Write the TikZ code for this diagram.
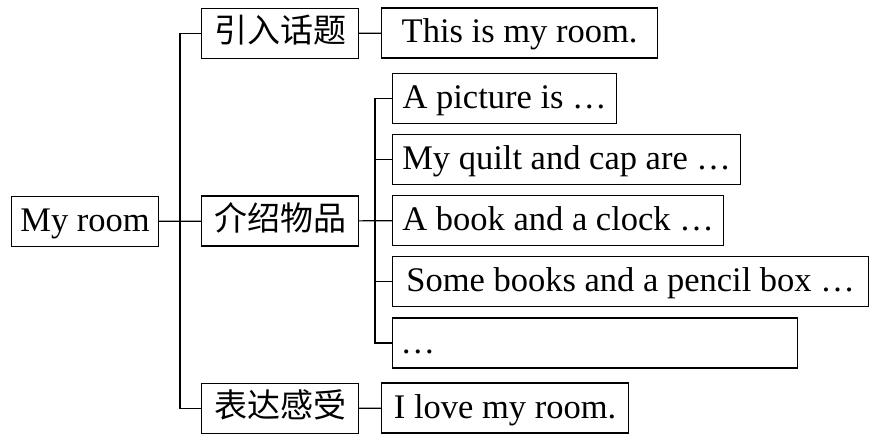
\documentclass[tikz,border=0pt]{standalone}
\usepackage{fontspec}
\setmainfont{Liberation Serif}
\newfontfamily\cjk{Noto Sans CJK SC}
\usetikzlibrary{positioning}

\tikzset{
  box/.style={draw, line width=1.2pt, minimum height=50, inner xsep=6pt,
    text height=25pt, text depth=5pt,
    anchor=west, font=\fontsize{34.5}{40}\selectfont},
  zh/.style={box, minimum width=157, text height=24pt, text depth=6pt,
    font=\fontsize{33}{40}\selectfont\cjk},
  link/.style={line width=1.2pt},
}

\begin{document}
\begin{tikzpicture}[x=1pt,y=-1pt]
\useasboundingbox (0,0) rectangle (892,441);
% root and the three parts
\node[box, minimum width=147] (root) at (11,221.5) {My room};
\node[zh] (topic) at (201,33.5)  {引入话题};
\node[zh] (items) at (201,221)   {介绍物品};
\node[zh] (feel)  at (201,408.5) {表达感受};
% sentences
\node[box, minimum width=276] (this) at (381,33)  {This is my room.};
\node[box, minimum width=247] (love) at (381,408) {I love my room.};
\node[box, minimum width=224] (pic)   at (392,98.5)  {A picture is \ldots};
\node[box, minimum width=348] (quilt) at (392,159.5) {My quilt and cap are \ldots};
\node[box, minimum width=331] (book)  at (392,220.5) {A book and a clock \ldots};
\node[box, minimum width=476] (books) at (392,281.5) {Some books and a pencil box \ldots};
\node[box, text width=389pt, inner xsep=8pt, align=left] (more) at (392,343) {\ldots};
% bus lines
\coordinate (bus)    at (180,408.5);
\coordinate (subbus) at (375,343);
\draw[link] (root) -- (items);
\draw[link] (topic.west) -| (bus) -- (feel.west);
\draw[link] (topic) -- (this);
\draw[link] (feel) -- (love);
\draw[link] (items) -- (book);
\draw[link] (pic.west) -| (subbus) -- (more.west);
\foreach \n in {quilt,books}
  \draw[link] (\n.west -| subbus) -- (\n.west);
\end{tikzpicture}
\end{document}
